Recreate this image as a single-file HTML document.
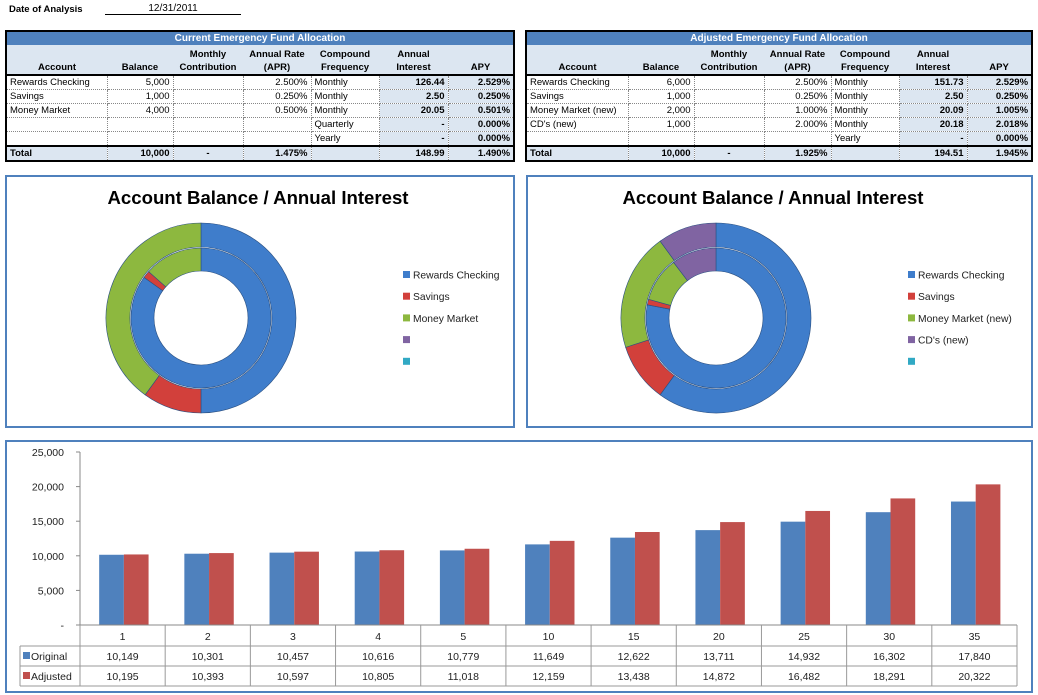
<!DOCTYPE html>
<html><head><meta charset="utf-8"><style>
body{margin:0;width:1038px;height:695px;background:#fff;font-family:"Liberation Sans",sans-serif;position:relative;overflow:hidden}
.abs{position:absolute}
table.ft{position:absolute;border-collapse:collapse;font-size:9.5px;border:2px solid #000;table-layout:fixed}
table.ft td{padding:0 3px;height:13px;line-height:13px;border-right:1px dotted #888;border-bottom:1px dotted #888;white-space:nowrap;overflow:hidden}
table.ft tr.title td{background:#4F81BD;color:#fff;font-weight:bold;text-align:center;font-size:10px;height:13px;border:none}
table.ft tr.hd td{background:#DCE6F1;font-weight:bold;text-align:center;height:29px;line-height:13px;vertical-align:bottom;border:none;border-bottom:2px solid #000}
table.ft td.r{text-align:right}
table.ft td.c{text-align:center}
table.ft td.sh{background:#DCE6F1;font-weight:bold;text-align:right}
table.ft tr.tot td{background:#DCE6F1;font-weight:bold;border-top:2px solid #000;border-bottom:none}
.panel{position:absolute;border:2px solid #4F81BD;box-sizing:border-box;background:#fff}
</style></head><body>
<div class="abs" style="left:9px;top:4px;font-size:9.5px;font-weight:bold">Date of Analysis</div>
<div class="abs" style="left:105px;top:3px;width:136px;border-bottom:1px solid #000;font-size:10px;text-align:center">12/31/2011</div>

<table class="ft" style="left:5px;top:30px;width:508px">
<colgroup><col style="width:101px"><col style="width:66px"><col style="width:70px"><col style="width:68px"><col style="width:68px"><col style="width:69px"><col style="width:66px"></colgroup>
<tr class="title"><td colspan="7">Current Emergency Fund Allocation</td></tr>
<tr class="hd"><td>Account</td><td>Balance</td><td>Monthly<br>Contribution</td><td>Annual Rate<br>(APR)</td><td>Compound<br>Frequency</td><td>Annual<br>Interest</td><td>APY</td></tr>
<tr><td>Rewards Checking</td><td class="r">5,000</td><td></td><td class="r">2.500%</td><td>Monthly</td><td class="sh">126.44</td><td class="sh">2.529%</td></tr>
<tr><td>Savings</td><td class="r">1,000</td><td></td><td class="r">0.250%</td><td>Monthly</td><td class="sh">2.50</td><td class="sh">0.250%</td></tr>
<tr><td>Money Market</td><td class="r">4,000</td><td></td><td class="r">0.500%</td><td>Monthly</td><td class="sh">20.05</td><td class="sh">0.501%</td></tr>
<tr><td></td><td></td><td></td><td></td><td>Quarterly</td><td class="sh">-</td><td class="sh">0.000%</td></tr>
<tr><td></td><td></td><td></td><td></td><td>Yearly</td><td class="sh">-</td><td class="sh">0.000%</td></tr>
<tr class="tot"><td>Total</td><td class="r">10,000</td><td class="c">-</td><td class="r">1.475%</td><td></td><td class="r">148.99</td><td class="r">1.490%</td></tr>
</table>

<table class="ft" style="left:525px;top:30px;width:506px">
<colgroup><col style="width:102px"><col style="width:66px"><col style="width:70px"><col style="width:67px"><col style="width:68px"><col style="width:68px"><col style="width:65px"></colgroup>
<tr class="title"><td colspan="7">Adjusted Emergency Fund Allocation</td></tr>
<tr class="hd"><td>Account</td><td>Balance</td><td>Monthly<br>Contribution</td><td>Annual Rate<br>(APR)</td><td>Compound<br>Frequency</td><td>Annual<br>Interest</td><td>APY</td></tr>
<tr><td>Rewards Checking</td><td class="r">6,000</td><td></td><td class="r">2.500%</td><td>Monthly</td><td class="sh">151.73</td><td class="sh">2.529%</td></tr>
<tr><td>Savings</td><td class="r">1,000</td><td></td><td class="r">0.250%</td><td>Monthly</td><td class="sh">2.50</td><td class="sh">0.250%</td></tr>
<tr><td>Money Market (new)</td><td class="r">2,000</td><td></td><td class="r">1.000%</td><td>Monthly</td><td class="sh">20.09</td><td class="sh">1.005%</td></tr>
<tr><td>CD's (new)</td><td class="r">1,000</td><td></td><td class="r">2.000%</td><td>Monthly</td><td class="sh">20.18</td><td class="sh">2.018%</td></tr>
<tr><td></td><td></td><td></td><td></td><td>Yearly</td><td class="sh">-</td><td class="sh">0.000%</td></tr>
<tr class="tot"><td>Total</td><td class="r">10,000</td><td class="c">-</td><td class="r">1.925%</td><td></td><td class="r">194.51</td><td class="r">1.945%</td></tr>
</table>

<div class="panel" style="left:5px;top:175px;width:510px;height:253px"></div>
<div class="panel" style="left:526px;top:175px;width:507px;height:253px"></div>
<div class="panel" style="left:5px;top:440px;width:1028px;height:253px"></div>

<svg id="svg" class="abs" style="left:0;top:0" width="1038" height="695" xmlns="http://www.w3.org/2000/svg" font-family="Liberation Sans, sans-serif"></svg>

<script>
const pieColors=["#3F7DCB","#D2403B","#8DB83F","#8064A2","#31A9C4"];
const leftLabels=["Rewards Checking","Savings","Money Market","",""];
const leftBalance=[5000,1000,4000];
const leftInterest=[126.44,2.50,20.05];
const rightLabels=["Rewards Checking","Savings","Money Market (new)","CD's (new)",""];
const rightBalance=[6000,1000,2000,1000];
const rightInterest=[151.73,2.50,20.09,20.18];

const categories=["1","2","3","4","5","10","15","20","25","30","35"];
const original=[10149,10301,10457,10616,10779,11649,12622,13711,14932,16302,17840];
const adjusted=[10195,10393,10597,10805,11018,12159,13438,14872,16482,18291,20322];
const yTicks=[0,5000,10000,15000,20000,25000];
const yTickLabels=["-","5,000","10,000","15,000","20,000","25,000"];

const svg=document.getElementById('svg');
const NS="http://www.w3.org/2000/svg";
function mk(tag,attrs,parent){const e=document.createElementNS(NS,tag);for(const k in attrs)e.setAttribute(k,attrs[k]);(parent||svg).appendChild(e);return e;}
function fmt(n){return n.toLocaleString('en-US');}

function arcPath(cx,cy,r0,r1,a0,a1){
  const p=(r,a)=>[cx+r*Math.sin(a),cy-r*Math.cos(a)];
  const large=(a1-a0)>Math.PI?1:0;
  const [x1,y1]=p(r1,a0),[x2,y2]=p(r1,a1),[x3,y3]=p(r0,a1),[x4,y4]=p(r0,a0);
  return `M${x1},${y1}A${r1},${r1} 0 ${large} 1 ${x2},${y2}L${x3},${y3}A${r0},${r0} 0 ${large} 0 ${x4},${y4}Z`;
}
function ring(cx,cy,r0,r1,vals,name){
  const tot=vals.reduce((a,b)=>a+b,0);let a=0;
  vals.forEach((v,i)=>{
    const a1=a+v/tot*2*Math.PI;
    const p=mk('path',{d:arcPath(cx,cy,r0,r1,a,a1),fill:pieColors[i],stroke:"#2a4f80","stroke-width":0.6});
    
    
    a=a1;
  });
}
function donut(cx,title,bal,intr,labels,lx,prefix){
  const t=mk('text',{x:cx+57,y:204,"font-size":"18.6","font-weight":"bold","text-anchor":"middle",fill:"#000"});
  t.textContent=title;
  
  
  ring(cx,318,71,95,bal,prefix+'-balance');
  ring(cx,318,47,70,intr,prefix+'-interest');
  labels.forEach((l,i)=>{
    const y=275+i*21.7;
    const s=mk('rect',{x:lx,y:y-4,width:7,height:7,fill:pieColors[i]});
    
    
    const tx=mk('text',{x:lx+10,y:y+3.5,"font-size":"10.3",fill:"#222"});
    tx.textContent=l;
    
    
  });
}
donut(201,"Account Balance / Annual Interest",leftBalance,leftInterest,leftLabels,403,'current');
donut(716,"Account Balance / Annual Interest",rightBalance,rightInterest,rightLabels,908,'adjusted');

// bar chart
const X0=80,X1=1017,Y0=625,YT=452,YMAX=25000;
const cw=(X1-X0)/categories.length;
const yS=v=>Y0-(v/YMAX)*(Y0-YT);
const ax=mk('line',{x1:X0,y1:YT,x2:X0,y2:Y0,stroke:"#888","stroke-width":1});


yTicks.forEach((v,i)=>{
  const y=yS(v);
  mk('line',{x1:X0-4,y1:y,x2:X0,y2:y,stroke:"#888"});
  const t=mk('text',{x:64,y:y+4,"font-size":"10.5","text-anchor":"end",fill:"#222"});
  t.textContent=yTickLabels[i];
  
  
});
const bw=cw*0.29,off=cw*0.225;
categories.forEach((c,i)=>{
  const x=X0+i*cw+off;
  const b1=mk('rect',{x:x,y:yS(original[i]),width:bw,height:Y0-yS(original[i]),fill:"#4F81BD"});
  
  
  const b2=mk('rect',{x:x+bw,y:yS(adjusted[i]),width:bw,height:Y0-yS(adjusted[i]),fill:"#C0504D"});
  
  
});
// data table
const rowsY=[625,646,666,686];
mk('line',{x1:X0,y1:625,x2:X1,y2:625,stroke:"#888"});
[646,666,686].forEach(y=>mk('line',{x1:20,y1:y,x2:X1,y2:y,stroke:"#999"}));
mk('line',{x1:20,y1:646,x2:20,y2:686,stroke:"#999"});
for(let i=0;i<=categories.length;i++){mk('line',{x1:X0+i*cw,y1:625,x2:X0+i*cw,y2:686,stroke:"#999"});}
const series=[["Original",original,"#4F81BD"],["Adjusted",adjusted,"#C0504D"]];
categories.forEach((c,i)=>{
  const t=mk('text',{x:X0+(i+0.5)*cw,y:640,"font-size":"10.5","text-anchor":"middle",fill:"#222"});
  t.textContent=c;
  
  
});
series.forEach((s,j)=>{
  const yb=rowsY[j+1]+14;
  mk('rect',{x:23,y:yb-8,width:7,height:7,fill:s[2]});
  const lt=mk('text',{x:31,y:yb,"font-size":"10.5",fill:"#222"});
  lt.textContent=s[0];
  
  
  s[1].forEach((v,i)=>{
    const t=mk('text',{x:X0+(i+0.5)*cw,y:yb,"font-size":"10.5","text-anchor":"middle",fill:"#222"});
    t.textContent=fmt(v);
    
    
  });
});
</script>
</body></html>
